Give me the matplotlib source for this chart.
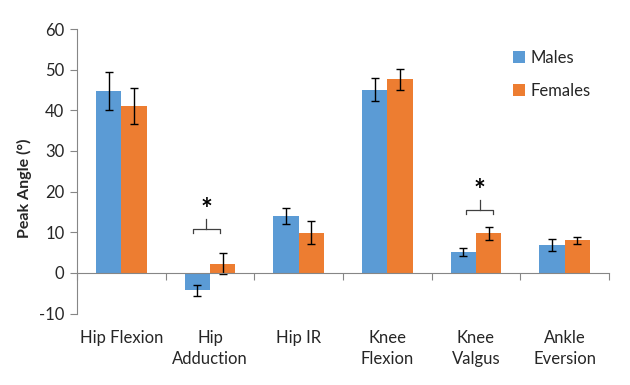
import numpy as np
import matplotlib.pyplot as plt
import matplotlib.transforms as mtransforms

# data
categories = ["Hip Flexion", "Hip\nAdduction", "Hip IR", "Knee\nFlexion", "Knee\nValgus", "Ankle\nEversion"]
males_mean = [44.8, -4.3, 14.0, 45.1, 5.2, 6.9]
males_sd = [4.7, 1.3, 2.0, 2.8, 1.0, 1.5]
females_mean = [41.0, 2.2, 9.9, 47.6, 9.8, 8.0]
females_sd = [4.4, 2.6, 2.8, 2.5, 1.6, 0.8]

# significance brackets: category position and bracket height
sig_x = [0.96, 4.04]
sig_level = [10.8, 15.5]

blue = "#5B9BD5"
orange = "#ED7D31"
axis_grey = "#868686"
text_col = "#262626"

plt.rcParams['font.family'] = ['Lato', 'DejaVu Sans']
plt.rcParams['axes.unicode_minus'] = False

fig = plt.figure(figsize=(6.3, 3.85), dpi=100)
ax = fig.add_axes([77 / 630, 1 - 313.5 / 385, (609 - 77) / 630, (313.5 - 29) / 385])

x = np.arange(len(categories))
width = 0.2875
err_kw = dict(ecolor="black", elinewidth=1.0, capsize=3.2, capthick=1.0)

ax.bar(x - width / 2, males_mean, width, yerr=males_sd, color=blue,
       label="Males", error_kw=err_kw, zorder=2)
ax.bar(x + width / 2, females_mean, width, yerr=females_sd, color=orange,
       label="Females", error_kw=err_kw, zorder=2)

ax.set_xlim(-0.5, len(categories) - 0.5)
ax.set_ylim(-10, 60)
ax.set_yticks(np.arange(-10, 61, 10))

# x axis line at zero with ticks at category boundaries
for s in ["top", "right"]:
    ax.spines[s].set_visible(False)
ax.spines["bottom"].set_position(("data", 0))
ax.spines["bottom"].set_color(axis_grey)
ax.spines["left"].set_color(axis_grey)
ax.set_xticks(np.arange(-0.5, len(categories)))
ax.set_xticklabels([])
ax.tick_params(axis="x", length=5, color=axis_grey, direction="out")
ax.tick_params(axis="y", length=5, color=axis_grey, labelsize=12,
               labelcolor=text_col, pad=4)

# category labels below the plot area
trans = mtransforms.blended_transform_factory(ax.transData, ax.transAxes)
for xi, lab in zip(x, categories):
    ax.annotate(lab, xy=(xi, 0), xycoords=trans, xytext=(0, -12),
                textcoords="offset points", ha="center", va="top",
                fontsize=12, color=text_col, linespacing=1.35)

fig.text(24 / 630, 1 - 188 / 385, "Peak Angle (°)", rotation=90,
         ha="center", va="center", fontsize=11.5, fontweight="bold",
         color=text_col)

# significance brackets
half = 0.152
for sx, lvl in zip(sig_x, sig_level):
    ax.plot([sx - half, sx - half, sx + half, sx + half],
            [lvl - 1.1, lvl, lvl, lvl - 1.1], color="#404040", lw=0.9, zorder=3)
    ax.plot([sx, sx], [lvl, lvl + 2.4], color="#404040", lw=0.9, zorder=3)
    ax.text(sx, lvl + 4.6, "*", ha="center", va="center", fontsize=20,
            fontweight="bold", color="black")

fig.legend(loc="upper left", bbox_to_anchor=(513 / 630, 1 - 50 / 385),
           frameon=False, fontsize=12, handlelength=0.7, handleheight=0.7,
           handletextpad=0.35, labelspacing=1.0, borderpad=0, borderaxespad=0,
           labelcolor=text_col)

fig.savefig("out.png", dpi=100)
